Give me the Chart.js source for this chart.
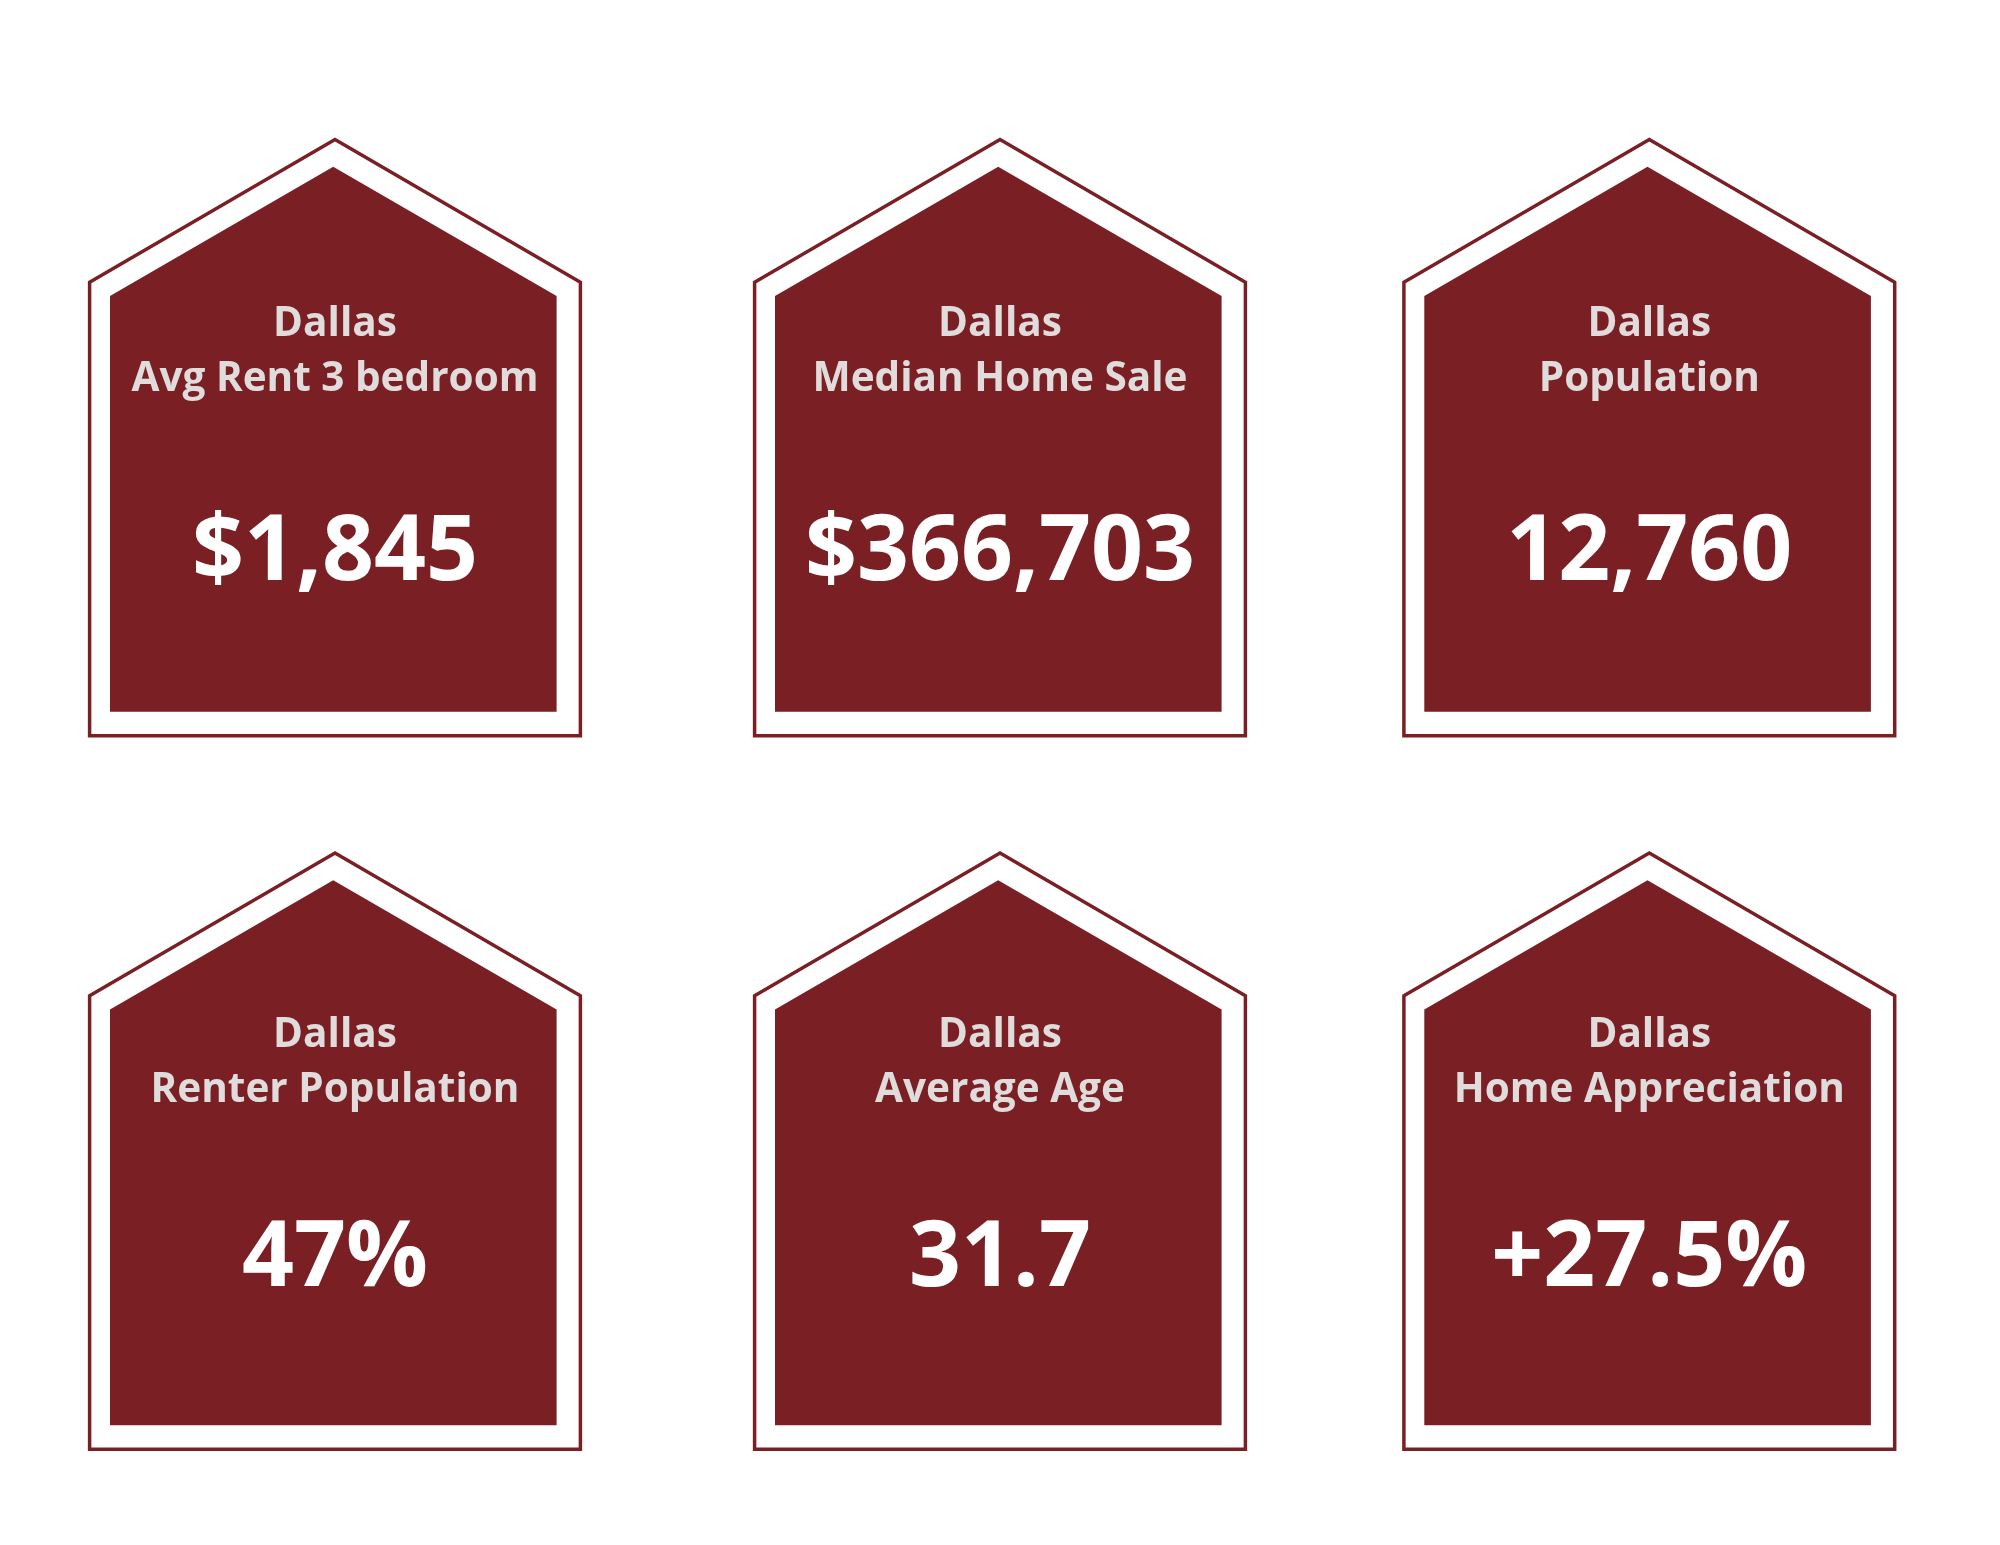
<!DOCTYPE html>
<html>
<head>
<meta charset="utf-8">
<title>Dallas housing stats</title>
<script src="https://cdn.jsdelivr.net/npm/chart.js@4/dist/chart.umd.min.js"></script>
<style>
  html, body { margin: 0; padding: 0; background: #fff; }
  canvas { display: block; }
</style>
</head>
<body>
<canvas id="myChart" width="2000" height="1545"></canvas>
<script>
// Data
const city = 'Dallas';
const metrics = ['Avg Rent 3 bedroom', 'Median Home Sale', 'Population', 'Renter Population', 'Average Age', 'Home Appreciation'];
const valueLabels = ['$1,845', '$366,703', '12,760', '47%', '31.7', '+27.5%'];

// Layout, in page pixels
const columnOffsets = [0, 665, 1314.3];
const rowOffsets = [0, 713.5];
const outline = [[335, 735.7], [580.4, 735.7], [580.4, 282.2], [335, 139.5], [89.6, 282.2], [89.6, 735.7], [335, 735.7]];
const inner = [[333.2, 711.7], [556.6, 711.7], [556.6, 296], [333.2, 166.7], [110, 296], [110, 711.7], [333.2, 711.7]];
const textCenterX = 335;
const cityBaseline = [336.3, 1047.3];
const metricBaseline = [391.2, 1102.2];
const valueBaseline = [579.8, 1285.8];

const maroon = '#7a2025';

function offsetShape(shape, dx, dy) {
  return shape.map(p => ({ x: p[0] + dx, y: p[1] + dy }));
}

const datasets = [];
metrics.forEach((metric, i) => {
  const dx = columnOffsets[i % 3];
  const dy = rowOffsets[Math.floor(i / 3)];
  datasets.push({
    label: metric + ' outline',
    data: offsetShape(outline, dx, dy),
    showLine: true,
    borderColor: maroon,
    borderWidth: 3.5,
    borderJoinStyle: 'miter',
    pointRadius: 0,
    fill: false,
  });
  datasets.push({
    label: metric,
    data: offsetShape(inner, dx, dy),
    showLine: true,
    borderWidth: 0,
    backgroundColor: maroon,
    pointRadius: 0,
    fill: 'shape',
  });
});

// Labels inside each house
const houseText = {
  id: 'houseText',
  afterDatasetsDraw(chart) {
    const { ctx, scales: { x, y } } = chart;
    ctx.save();
    ctx.textAlign = 'center';
    ctx.textBaseline = 'alphabetic';
    metrics.forEach((metric, i) => {
      const row = Math.floor(i / 3);
      const cx = x.getPixelForValue(textCenterX + columnOffsets[i % 3]);
      ctx.font = 'bold 40.5px "Open Sans"';
      ctx.fillStyle = '#e0dcdc';
      ctx.fillText(city, cx, y.getPixelForValue(cityBaseline[row]));
      ctx.fillText(metric, cx, y.getPixelForValue(metricBaseline[row]));
      ctx.font = 'bold 91px "Open Sans"';
      ctx.fillStyle = '#ffffff';
      ctx.fillText(valueLabels[i], cx, y.getPixelForValue(valueBaseline[row]));
    });
    ctx.restore();
  }
};

const myChart = new Chart(document.getElementById('myChart'), {
  type: 'scatter',
  data: { datasets: datasets },
  plugins: [houseText],
  options: {
    responsive: false,
    animation: false,
    events: [],
    layout: { padding: 0 },
    scales: {
      x: { type: 'linear', display: false, min: 0, max: 2000 },
      y: { type: 'linear', display: false, min: 0, max: 1545, reverse: true },
    },
    plugins: {
      legend: { display: false },
      tooltip: { enabled: false },
    },
  },
});
</script>
</body>
</html>
